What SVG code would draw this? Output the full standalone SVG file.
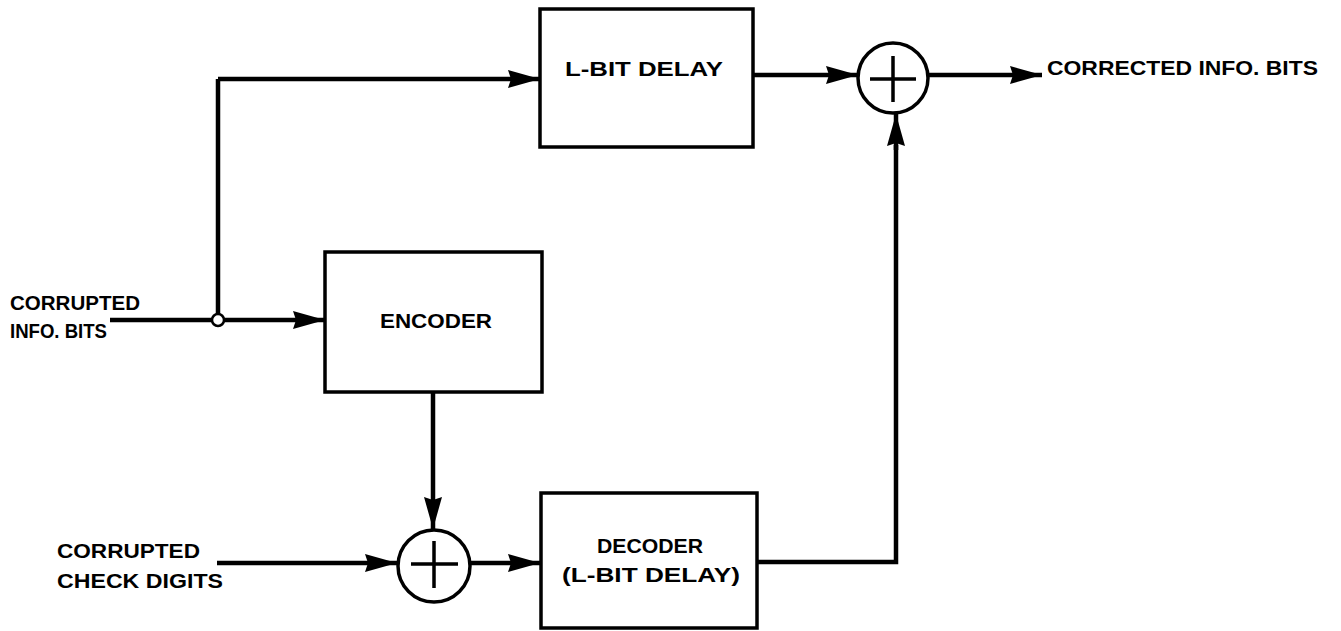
<svg xmlns="http://www.w3.org/2000/svg" width="1341" height="631" viewBox="0 0 1341 631">
<defs>
<style>
.box{fill:#fff;stroke:#000;stroke-width:3.5}
.sum{fill:#fff;stroke:#000;stroke-width:3.5}
.plus{stroke:#000;stroke-width:3.5;fill:none}
.wire{stroke:#000;stroke-width:4.5;fill:none;stroke-linejoin:miter}
.arr{stroke:#000;stroke-width:4.5;fill:none;marker-end:url(#ah)}
text{font-family:"Liberation Sans",Arial,sans-serif;font-weight:bold;font-size:21px;fill:#000}
</style>
<marker id="ah" markerUnits="userSpaceOnUse" markerWidth="32" markerHeight="18" refX="32" refY="9" orient="auto">
<path d="M0,0 L32,9 L0,18 L3,9 z" fill="#000"/>
</marker>
</defs>
<rect width="1341" height="631" fill="#fff"/>
<g id="connectors">
<path class="wire" d="M110,320 L218,320 L218,79"/>
<path class="arr" d="M218,79 L540,79"/>
<path class="arr" d="M218,320 L325,320"/>
<path class="arr" d="M753,75 L858,75"/>
<path class="arr" d="M928,75 L1042,75"/>
<path class="arr" d="M433,392 L433,529"/>
<path class="arr" d="M217,563 L397,563"/>
<path class="arr" d="M470,563 L540,563"/>
<path class="wire" d="M757,562 L896,562 L896,145"/>
<path class="arr" d="M896,150 L896,114"/>
<circle cx="218" cy="320" r="6" fill="#fff" stroke="#000" stroke-width="2.5"/>
</g>
<g id="delay">
<rect class="box" x="540" y="9" width="213" height="138"/>
<text x="565" y="76" textLength="158" lengthAdjust="spacingAndGlyphs">L-BIT DELAY</text>
</g>
<g id="encoder">
<rect class="box" x="325" y="252" width="217" height="140"/>
<text x="380" y="328" textLength="112" lengthAdjust="spacingAndGlyphs">ENCODER</text>
</g>
<g id="decoder">
<rect class="box" x="541" y="493" width="216" height="135"/>
<text x="597" y="553" textLength="106" lengthAdjust="spacingAndGlyphs">DECODER</text>
<text x="562" y="582" textLength="178" lengthAdjust="spacingAndGlyphs">(L-BIT DELAY)</text>
</g>
<g id="sum-top">
<circle class="sum" cx="893" cy="78" r="35"/>
<path class="plus" d="M870,79 L916,79 M893,56 L893,102"/>
</g>
<g id="sum-bottom">
<circle class="sum" cx="434" cy="566" r="36"/>
<path class="plus" d="M411,564 L458,564 M434,541 L434,588"/>
</g>
<g id="labels">
<text x="10" y="310" textLength="130" lengthAdjust="spacingAndGlyphs">CORRUPTED</text>
<text x="10" y="338" textLength="97" lengthAdjust="spacingAndGlyphs">INFO. BITS</text>
<text x="57" y="558" textLength="143" lengthAdjust="spacingAndGlyphs">CORRUPTED</text>
<text x="57" y="588" textLength="166" lengthAdjust="spacingAndGlyphs">CHECK DIGITS</text>
<text x="1047" y="75" textLength="271" lengthAdjust="spacingAndGlyphs">CORRECTED INFO. BITS</text>
</g>
</svg>
